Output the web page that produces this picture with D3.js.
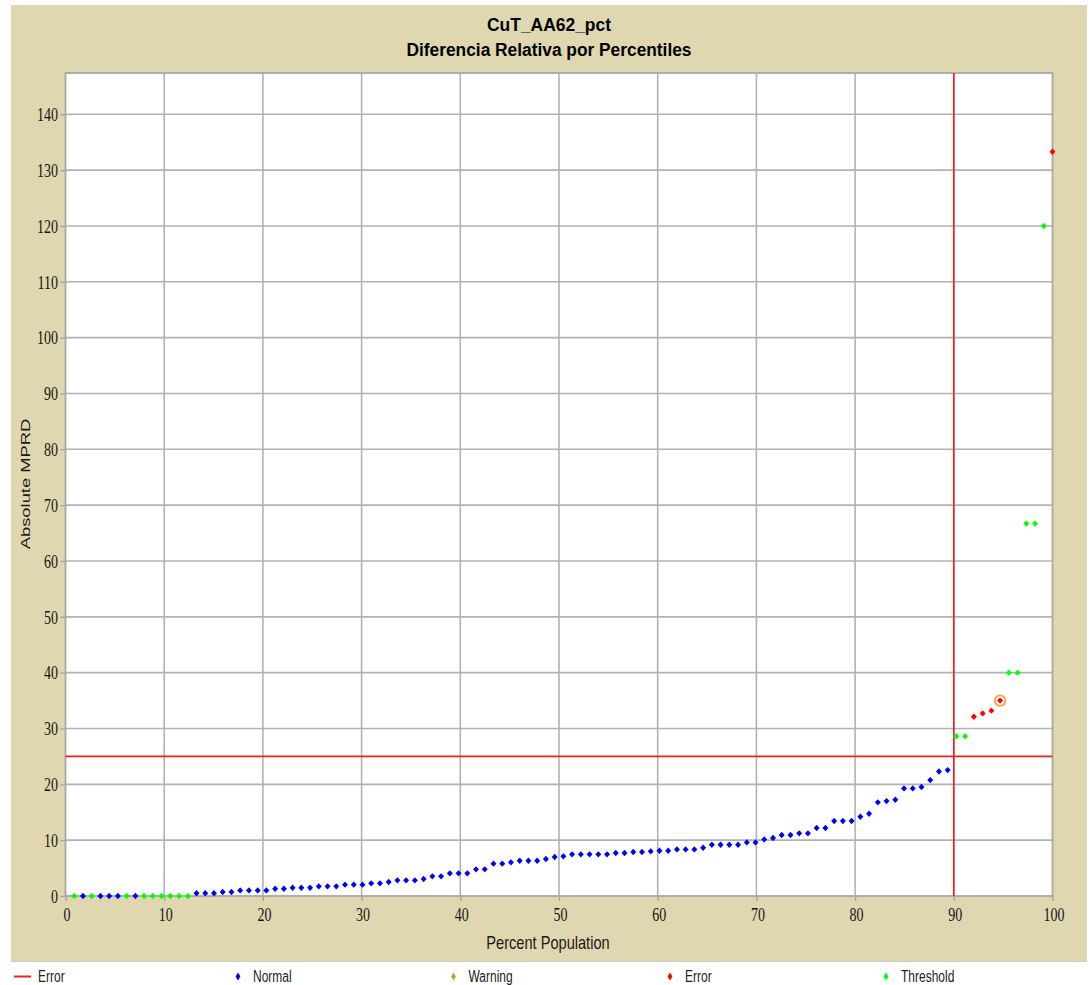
<!DOCTYPE html>
<html>
<head>
<meta charset="utf-8">
<script src="https://cdn.jsdelivr.net/npm/d3@7"></script>
<style>
  body { margin: 0; background: #ffffff; }
  svg { display: block; }
</style>
</head>
<body>
<svg id="chart" width="1092" height="985"></svg>
<script>
// ---- chart data ----
const titleLines = ["CuT_AA62_pct", "Diferencia Relativa por Percentiles"];
const xLabel = "Percent Population";
const yLabel = "Absolute MPRD";
const xTicks = [0, 10, 20, 30, 40, 50, 60, 70, 80, 90, 100];
const yTicks = [0, 10, 20, 30, 40, 50, 60, 70, 80, 90, 100, 110, 120, 130, 140];

// Absolute MPRD of every sample, sorted ascending
const mprd = [
  0, 0, 0, 0, 0, 0, 0, 0, 0, 0, 0, 0, 0, 0,
  0.48, 0.48, 0.48, 0.72, 0.72, 1.0, 1.0, 1.0, 1.0, 1.3,
  1.3, 1.49, 1.49, 1.49, 1.73, 1.73, 1.73, 2.03, 2.03, 2.03,
  2.27, 2.27, 2.5, 2.8, 2.8, 2.8, 3.04, 3.52, 3.52, 4.06,
  4.06, 4.06, 4.77, 4.77, 5.79, 5.79, 6.03, 6.32, 6.32, 6.32,
  6.62, 6.98, 7.1, 7.46, 7.46, 7.46, 7.46, 7.46, 7.7, 7.7,
  7.88, 7.88, 8.0, 8.11, 8.11, 8.35, 8.35, 8.35, 8.65, 9.19,
  9.19, 9.19, 9.19, 9.6, 9.6, 10.14, 10.38, 10.92, 10.92, 11.22,
  11.22, 12.17, 12.17, 13.42, 13.42, 13.42, 14.2, 14.74, 16.77, 17.0,
  17.24, 19.27, 19.27, 19.51, 20.76, 22.31, 22.55,
  28.6, 28.6, 32.1, 32.7, 33.2, 35.0, 40.0, 40.0, 66.7, 66.7, 120.0, 133.3
];
// Classification of each sample: N = Normal, W = Warning, E = Error, T = Threshold
const statusCodes =
  "TNTNNNTNTTTTTT" +
  "NNNNNNNNNNNNNNNNNNNNNNNNNNNNNNNNNNNNNNNNNNNNNNNNNNNNNNNNNNNNNNNNNNNNNNNNNNNNNNNNNNNNNNN" +
  "TTEEEETTTTTE";
const errorLimit = 25;       // horizontal error line (MPRD)
const percentileLimit = 90;  // vertical error line (percent population)
const highlightedSample = 106;

const seriesNames = ["Normal", "Warning", "Error", "Threshold"];
const seriesCodes = ["N", "W", "E", "T"];
const seriesColors = ["#0000ff", "#cc9a2a", "#ff0000", "#00ff00"];
const errorLineColor = "#ff1a1a";

// ---- layout ----
const svg = d3.select("#chart");
const W = 1092, H = 985;
const panel = { x: 11, y: 5, w: 1076, h: 956 };
const plot = { left: 65.5, right: 1052.5, top: 73, bottom: 896 };
const SY = 1.38; // vertical stretch used for all axis / legend text

const x = d3.scaleLinear().domain([0, 100]).range([plot.left, plot.right]);
const y = d3.scaleLinear().domain([0, 147.4]).range([plot.bottom, plot.top]);

const colorOf = d3.scaleOrdinal().domain(seriesCodes).range(seriesColors);

// percent of the population at or below each sorted sample
const points = mprd.map((v, i) => ({
  pct: (i + 1) / mprd.length * 100,
  value: v,
  code: statusCodes[i],
  idx: i
}));

// background panel
svg.append("rect").attr("x", 0).attr("y", 0).attr("width", W).attr("height", H).attr("fill", "#ffffff");
svg.append("rect")
  .attr("x", panel.x).attr("y", panel.y).attr("width", panel.w).attr("height", panel.h)
  .attr("fill", "#dfd7b0");
svg.append("line")
  .attr("x1", panel.x).attr("x2", panel.x + panel.w)
  .attr("y1", panel.y + panel.h + 0.5).attr("y2", panel.y + panel.h + 0.5)
  .attr("stroke", "#c8c8c8").attr("stroke-width", 1);

// plot area
svg.append("rect")
  .attr("x", plot.left).attr("y", plot.top)
  .attr("width", plot.right - plot.left).attr("height", plot.bottom - plot.top)
  .attr("fill", "#ffffff");

// grid
const grid = svg.append("g").attr("stroke", "#b2b2b2").attr("stroke-width", 1.6);
grid.selectAll("line.gx").data(xTicks.filter(t => t > 0 && t < 100)).join("line")
  .attr("x1", d => x(d)).attr("x2", d => x(d))
  .attr("y1", plot.top).attr("y2", plot.bottom);
grid.selectAll("line.gy").data(yTicks.filter(t => t > 0)).join("line")
  .attr("x1", plot.left).attr("x2", plot.right)
  .attr("y1", d => y(d)).attr("y2", d => y(d));

// axes
const axisFont = "'Liberation Serif', 'Times New Roman', serif";
const xAxis = svg.append("g")
  .attr("transform", `translate(0,${plot.bottom})`)
  .call(d3.axisBottom(x).tickValues(xTicks).tickSize(5).tickSizeOuter(0));
const yAxis = svg.append("g")
  .attr("transform", `translate(${plot.left},0)`)
  .call(d3.axisLeft(y).tickValues(yTicks).tickSize(5).tickSizeOuter(0));
[xAxis, yAxis].forEach(a => {
  a.select(".domain").remove();
  a.selectAll(".tick line").attr("stroke", "#a0a0a0").attr("stroke-width", 1.3);
  a.selectAll(".tick text")
    .attr("font-family", axisFont).attr("font-size", 14).attr("fill", "#141414");
});
xAxis.selectAll(".tick text")
  .attr("y", 0).attr("dy", null)
  .attr("transform", `translate(1,25) scale(1,${SY})`);
yAxis.selectAll(".tick text")
  .attr("x", 0).attr("dy", null)
  .attr("transform", `translate(-7.5,6.3) scale(1,${SY})`);

// plot border
svg.append("rect")
  .attr("x", plot.left).attr("y", plot.top)
  .attr("width", plot.right - plot.left).attr("height", plot.bottom - plot.top)
  .attr("fill", "none").attr("stroke", "#a8a8a8").attr("stroke-width", 1.8);

// error limit lines
svg.append("line")
  .attr("x1", plot.left).attr("x2", plot.right)
  .attr("y1", y(errorLimit)).attr("y2", y(errorLimit))
  .attr("stroke", errorLineColor).attr("stroke-width", 1.6);
svg.append("line")
  .attr("x1", x(percentileLimit)).attr("x2", x(percentileLimit))
  .attr("y1", plot.top).attr("y2", plot.bottom)
  .attr("stroke", errorLineColor).attr("stroke-width", 1.6);

// markers
const diamond = "M0,-3.2L3,0L0,3.2L-3,0Z";
svg.append("g").selectAll("path").data(points).join("path")
  .attr("d", diamond)
  .attr("transform", d => `translate(${x(d.pct)},${y(d.value)})`)
  .attr("fill", d => colorOf(d.code));

// highlighted sample ring
const hp = points[highlightedSample];
svg.append("circle")
  .attr("cx", x(hp.pct)).attr("cy", y(hp.value)).attr("r", 5.3)
  .attr("fill", "none").attr("stroke", "#ffa040").attr("stroke-width", 1.8);

// text helper with vertical stretch
function label(txt, cx, cy, opts) {
  const o = Object.assign({ size: 14, family: "'Liberation Sans', Arial, sans-serif", weight: "normal",
    anchor: "middle", sy: SY, rotate: 0, fill: "#1a1a1a", length: null }, opts);
  const t = svg.append("text")
    .attr("transform", `translate(${cx},${cy}) scale(1,${o.sy})` + (o.rotate ? ` rotate(${o.rotate})` : ""))
    .attr("text-anchor", o.anchor)
    .attr("dy", "0.35em")
    .attr("font-family", o.family).attr("font-size", o.size).attr("font-weight", o.weight)
    .attr("fill", o.fill)
    .text(txt);
  if (o.length) t.attr("textLength", o.length).attr("lengthAdjust", "spacingAndGlyphs");
  return t;
}

// titles
label(titleLines[0], 549, 25, { size: 17.5, weight: "bold", sy: 1.05, fill: "#000", length: 124 });
label(titleLines[1], 549, 50, { size: 17.5, weight: "bold", sy: 1.05, fill: "#000", length: 285 });

// axis titles
label(xLabel, 548, 942, { size: 14.6, sy: 1.3 });
label(yLabel, 25, 484, { size: 13.6, sy: 1.35, rotate: -90 });

// legend
const legendY = 976.5;
const legend = svg.append("g");
legend.append("line")
  .attr("x1", 14).attr("x2", 31).attr("y1", legendY).attr("y2", legendY)
  .attr("stroke", errorLineColor).attr("stroke-width", 2);
label("Error", 38, legendY, { size: 12, anchor: "start", sy: 1.3, fill: "#222" });
const legendX = [238, 453.5, 670, 886];
seriesNames.forEach((name, i) => {
  legend.append("path")
    .attr("d", "M0,-4L2.4,0L0,4L-2.4,0Z")
    .attr("transform", `translate(${legendX[i]},${legendY})`)
    .attr("fill", seriesColors[i]);
  label(name, legendX[i] + 15, legendY, { size: 12, anchor: "start", sy: 1.3, fill: "#222" });
});
</script>
</body>
</html>
